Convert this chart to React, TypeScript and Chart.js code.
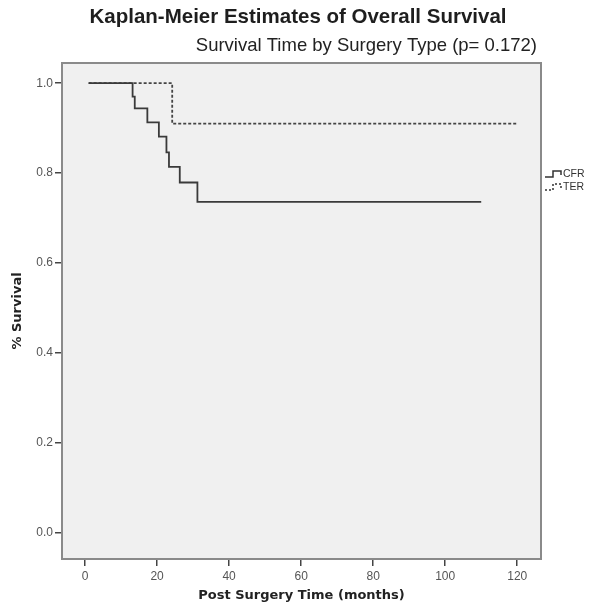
import { useEffect, useRef } from "react";
import { Chart, registerables } from "chart.js";

Chart.register(...registerables);

const chartTitle = "Kaplan-Meier Estimates of Overall Survival";
const chartSubtitle = "Survival Time by Surgery Type (p= 0.172)";
const xAxisTitle = "Post Surgery Time (months)";
const yAxisTitle = "% Survival";
const seriesNames = ["CFR", "TER"];

const cfrTimes = [1, 13.2, 13.8, 17.3, 20.5, 22.6, 23.3, 26.3, 31.2, 110];
const cfrSurvival = [1, 0.97, 0.944, 0.913, 0.881, 0.846, 0.814, 0.779, 0.736, 0.736];
const terTimes = [1, 24.2, 120];
const terSurvival = [1, 0.91, 0.91];

const xTicks = [0, 20, 40, 60, 80, 100, 120];
const yTicks = [0, 0.2, 0.4, 0.6, 0.8, 1.0];

const W = 609;
const H = 604;
const PLOT_LEFT = 62;
const PLOT_RIGHT = 541;
const PLOT_TOP = 63;
const PLOT_BOTTOM = 559;

const decorPlugin = {
  id: "decor",
  beforeDraw(chart: any) {
    const { ctx, chartArea: a } = chart;
    ctx.save();
    ctx.fillStyle = "#ffffff";
    ctx.fillRect(0, 0, chart.width, chart.height);
    ctx.fillStyle = "#f0f0f0";
    ctx.fillRect(a.left, a.top, a.right - a.left, a.bottom - a.top);
    ctx.restore();
  },
  afterDatasetsDraw(chart: any) {
    const { ctx, chartArea: a } = chart;
    ctx.save();
    ctx.strokeStyle = "#8a8a8a";
    ctx.lineWidth = 2;
    ctx.strokeRect(a.left, a.top, a.right - a.left, a.bottom - a.top);
    ctx.restore();
  },
  afterDraw(chart: any) {
    const { ctx, chartArea: a } = chart;
    ctx.save();
    ctx.fillStyle = "#1e1e1e";
    ctx.textBaseline = "middle";
    ctx.font = 'bold 20.5px "Liberation Sans", Arial, sans-serif';
    ctx.textAlign = "center";
    ctx.fillText(chartTitle, 298, 17);
    ctx.fillStyle = "#222";
    ctx.font = '18.5px "Liberation Sans", Arial, sans-serif';
    ctx.textAlign = "right";
    ctx.fillText(chartSubtitle, 537, 46);

    ctx.font = 'bold 13px "DejaVu Sans", sans-serif';
    ctx.textAlign = "center";
    ctx.fillText(xAxisTitle, (a.left + a.right) / 2, 596);
    ctx.save();
    ctx.translate(18, (a.top + a.bottom) / 2);
    ctx.rotate(-Math.PI / 2);
    ctx.fillText(yAxisTitle, 0, 0);
    ctx.restore();

    // legend
    const lx = 545;
    const rows = [174, 187];
    ctx.strokeStyle = "#333";
    ctx.lineWidth = 1.5;
    rows.forEach((y, i) => {
      ctx.setLineDash(i === 0 ? [] : [2, 2]);
      ctx.beginPath();
      ctx.moveTo(lx, y + 3);
      ctx.lineTo(lx + 8, y + 3);
      ctx.lineTo(lx + 8, y - 3);
      ctx.lineTo(lx + 16, y - 3);
      ctx.lineTo(lx + 16, y + 1);
      ctx.stroke();
      ctx.setLineDash([]);
      ctx.font = '10.5px "Liberation Sans", Arial, sans-serif';
      ctx.textAlign = "left";
      ctx.fillStyle = "#333";
      ctx.fillText(seriesNames[i], lx + 18, y);
    });
    ctx.restore();
  },
};

export default function App() {
  const ref = useRef<HTMLCanvasElement | null>(null);

  useEffect(() => {
    if (!ref.current) return;
    const chart = new Chart(ref.current, {
      type: "line",
      data: {
        datasets: [
          {
            label: seriesNames[0],
            data: cfrTimes.map((t, i) => ({ x: t, y: cfrSurvival[i] })),
            stepped: "before",
            borderColor: "#3a3a3a",
            borderWidth: 1.8,
            pointRadius: 0,
            fill: false,
            order: 0,
          },
          {
            label: seriesNames[1],
            data: terTimes.map((t, i) => ({ x: t, y: terSurvival[i] })),
            stepped: "before",
            borderColor: "#444",
            borderWidth: 1.8,
            borderDash: [3, 2],
            pointRadius: 0,
            fill: false,
            order: 1,
          },
        ],
      },
      options: {
        responsive: false,
        animation: false,
        devicePixelRatio: 1,
        layout: {
          padding: { top: PLOT_TOP, right: W - PLOT_RIGHT, bottom: 0, left: 0 },
        },
        plugins: {
          legend: { display: false },
          title: { display: false },
          tooltip: { enabled: false },
        },
        scales: {
          x: {
            type: "linear",
            min: -6.4,
            max: 126.6,
            afterBuildTicks: (s: any) => {
              s.ticks = xTicks.map((v) => ({ value: v }));
            },
            afterFit: (s: any) => {
              s.height = H - PLOT_BOTTOM;
            },
            grid: {
              display: true,
              drawOnChartArea: false,
              drawTicks: true,
              tickLength: 7,
              color: "#444",
              lineWidth: 1.5,
            },
            border: { display: false },
            ticks: {
              padding: 3,
              color: "#555",
              font: { family: '"Liberation Sans", Arial, sans-serif', size: 12 },
              callback: (v: any) => String(v),
            },
          },
          y: {
            type: "linear",
            min: -0.059,
            max: 1.045,
            afterBuildTicks: (s: any) => {
              s.ticks = yTicks.map((v) => ({ value: v }));
            },
            afterFit: (s: any) => {
              s.width = PLOT_LEFT;
            },
            grid: {
              display: true,
              drawOnChartArea: false,
              drawTicks: true,
              tickLength: 7,
              color: "#444",
              lineWidth: 1.5,
            },
            border: { display: false },
            ticks: {
              padding: 2,
              color: "#555",
              font: { family: '"Liberation Sans", Arial, sans-serif', size: 12 },
              callback: (v: any) => Number(v).toFixed(1),
            },
          },
        },
      },
      plugins: [decorPlugin],
    });
    return () => chart.destroy();
  }, []);

  return (
    <div style={{ position: "absolute", left: 0, top: 0, width: W, height: H, background: "#fff" }}>
      <canvas ref={ref} width={W} height={H} style={{ display: "block", width: W, height: H }} />
    </div>
  );
}
